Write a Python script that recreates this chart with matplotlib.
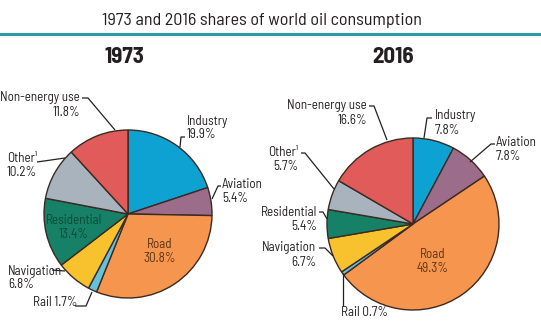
import matplotlib
matplotlib.use("Agg")
import matplotlib.pyplot as plt

plt.rcParams['font.family'] = ['Barlow Semi Condensed', 'IBM Plex Sans Condensed', 'DejaVu Sans']

title = "1973 and 2016 shares of world oil consumption"
years = ["1973", "2016"]
categories = ["Industry", "Aviation", "Road", "Rail", "Navigation",
              "Residential", "Other¹", "Non-energy use"]
shares_1973 = [19.9, 5.4, 30.8, 1.7, 6.8, 13.4, 10.2, 11.8]
shares_2016 = [7.8, 7.8, 49.3, 0.7, 6.7, 5.4, 5.7, 16.6]
colors = ['#0ea2d3', '#9c6c8b', '#f6954d', '#63c2dc', '#f8c12e',
          '#168166', '#a9b3bd', '#e05b59']

W, H = 541, 325
fig = plt.figure(figsize=(W / 100, H / 100), dpi=100)
ax = fig.add_axes([0, 0, 1, 1])
TXT = '#231f20'
EDGE = '#3b2a22'


def P(x, y):
    return x, H - y


def draw_pie(vals, cx, cy, r):
    ax.pie(vals, colors=colors, startangle=90, counterclock=False,
           center=P(cx, cy), radius=r,
           wedgeprops=dict(edgecolor=EDGE, linewidth=1.0))


draw_pie(shares_1973, 128, 214, 84)
draw_pie(shares_2016, 413, 224, 86)

ax.set_xlim(0, W)
ax.set_ylim(0, H)
ax.set_aspect('auto')
ax.axis('off')

fs = 9.4


def lab(x, y, s, ha='left', color=TXT, size=fs):
    ax.text(*P(x, y), s, ha=ha, va='center', color=color, fontsize=size,
            multialignment=ha, linespacing=1.1)


def line(pts):
    xs = [p[0] for p in pts]
    ys = [H - p[1] for p in pts]
    ax.plot(xs, ys, color=TXT, lw=0.9, solid_capstyle='butt')


def fmt(v):
    return f"{v:.1f}%"


# title and rule
ax.text(*P(262, 20), title, ha='center', va='center', fontsize=13, color=TXT)
ax.plot([0, W], [H - 34, H - 34], color='#2a9ca1', lw=2.2)
ax.text(*P(124, 57), years[0], ha='center', va='center', fontsize=16.5,
        fontweight='bold', color=TXT)
ax.text(*P(393, 57), years[1], ha='center', va='center', fontsize=16.5,
        fontweight='bold', color=TXT)

a = shares_1973
# 1973 labels
lab(80, 105, f"{categories[7]}\n{fmt(a[7])}", ha='right')
line([(82, 98), (88, 98), (115, 130)])
lab(7, 165, f"{categories[6]}\n{fmt(a[6])}")
line([(37, 162), (65, 158)])
lab(187, 128, f"{categories[0]}\n{fmt(a[0])}")
line([(185, 137), (181, 137), (180, 147)])
lab(222, 191, f"{categories[1]}\n{fmt(a[1])}")
line([(221, 186), (218, 186), (212, 199)])
lab(8, 278, f"{categories[4]}\n{fmt(a[4])}")
line([(52, 270), (65, 271)])
lab(33, 302, f"{categories[3]} {fmt(a[3])}")
line([(75, 306), (86, 306), (92, 292)])
lab(74, 227, f"{categories[5]}\n{fmt(a[5])}", ha='center', color='#0c4a3a')
lab(160, 251, f"{categories[2]}\n{fmt(a[2])}", ha='center', color='#5a3418')

b = shares_2016
# 2016 labels
lab(367, 113, f"{categories[7]}\n{fmt(b[7])}", ha='right')
line([(369, 106), (374, 106), (387, 140)])
lab(298, 160, f"{categories[6]}\n{fmt(b[6])}", ha='right')
line([(301, 153), (305, 153), (334, 189)])
lab(317, 219, f"{categories[5]}\n{fmt(b[5])}", ha='right')
line([(319, 212), (323, 212), (327, 219)])
lab(316, 255, f"{categories[4]}\n{fmt(b[4])}", ha='right')
line([(319, 248), (325, 248), (333, 256)])
lab(341, 313, f"{categories[3]} {fmt(b[3])}")
line([(343, 306), (343, 273)])
lab(435, 123, f"{categories[0]}\n{fmt(b[0])}")
line([(432, 118), (427, 118), (424, 138)])
lab(496, 150, f"{categories[1]}\n{fmt(b[1])}")
line([(495, 144), (491, 144), (470, 162)])
lab(433, 262, f"{categories[2]}\n{fmt(b[2])}", ha='center', color='#5a3418')

fig.savefig("out.png", dpi=100)
